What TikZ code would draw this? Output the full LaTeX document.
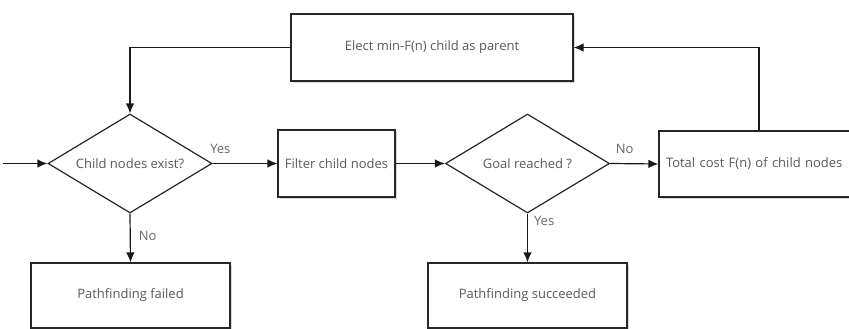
\documentclass[tikz,border=0pt]{standalone}
\usepackage{fontspec}
\setmainfont{Open Sans}
\usetikzlibrary{shapes.geometric,arrows.meta,shadows}
\definecolor{txt}{HTML}{5A5A5A}
\definecolor{lbl}{HTML}{666666}
\tikzset{
  boxstyle/.style={draw=black!85, line width=1.2pt, fill=white, rectangle, inner sep=0pt,
    font=\fontsize{13}{15}\selectfont, text=txt,
    drop shadow={shadow xshift=2pt, shadow yshift=-2pt, opacity=0.15, fill=black}},
  decstyle/.style={draw=black!85, line width=1.2pt, fill=white, diamond, inner sep=0pt, aspect=1.66,
    font=\fontsize{13}{15}\selectfont, text=txt, minimum width=164pt, minimum height=99pt},
  conn/.style={draw=black!90, line width=1.2pt, -{Latex[length=10pt,width=8.5pt]}},
  lab/.style={font=\fontsize{13}{15}\selectfont, text=lbl, inner sep=0pt}
}
\begin{document}
\begin{tikzpicture}[x=1pt,y=-1pt]
\useasboundingbox (0,0) rectangle (849,329);
% nodes
\node[boxstyle, minimum width=282pt, minimum height=67pt] (elect) at (432,47.5) {Elect min-F(n) child as parent};
\node[decstyle] (d1) at (130,163.5) {Child nodes exist?};
\node[boxstyle, minimum width=117pt, minimum height=67pt] (filter) at (336.5,163.5) {Filter child nodes};
\node[decstyle] (d2) at (527.5,163.5) {Goal reached ?};
\node[boxstyle, minimum width=198pt, minimum height=66pt, text width=194pt, align=left] (total) at (758,164) {\hspace*{5pt}Total cost F(n) of child nodes};
\node[boxstyle, minimum width=199pt, minimum height=65pt] (fail) at (130.5,295.5) {Pathfinding failed};
\node[boxstyle, minimum width=199pt, minimum height=65pt] (succ) at (527.5,295.5) {Pathfinding succeeded};
\coordinate (start) at (3,163.5);
% connectors
\draw[conn] (start) -- (d1.west);
\draw[conn] (d1.east) -- node[lab, pos=0.12, above=9pt] {Yes} (filter.west);
\draw[conn] (filter.east) -- (d2.west);
\draw[conn] (d2.east) -- node[lab, pos=0.3, above=9pt] {No} (total.west);
\draw[conn] (d1.south) -- node[lab, pos=0.45, right=8pt] {No} (fail.north);
\draw[conn] (d2.south) -- node[lab, pos=0.15, right=6pt] {Yes} (succ.north);
\draw[conn] (total.north -| 759,0) |- (elect.east);
\draw[conn] (elect.west) -| (d1.north);
\end{tikzpicture}
\end{document}
